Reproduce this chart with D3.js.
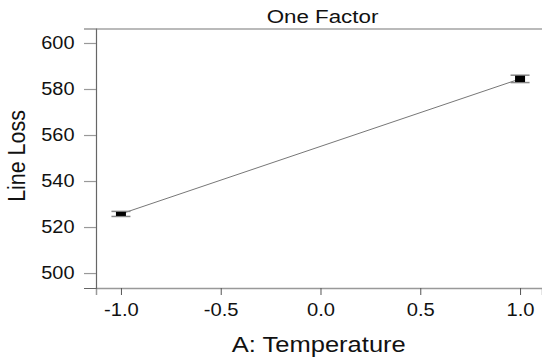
<!DOCTYPE html>
<html>
<head>
<meta charset="utf-8">
<script src="https://cdn.jsdelivr.net/npm/d3@7"></script>
<style>
  body { margin: 0; background: #fff; }
  svg { font-family: "Liberation Sans", Arial, sans-serif; }
</style>
</head>
<body>
<svg id="chart" width="542" height="358"></svg>
<script>
// factor levels and predicted means with interval
const levels = [-1, 1];
const means = [525.7, 584.4];
const halfWidths = [1.1, 1.6];
const xTicks = [-1.0, -0.5, 0.0, 0.5, 1.0];
const yTicks = [500, 520, 540, 560, 580, 600];

const margin = { top: 29, right: 0, bottom: 70, left: 96 };
const width = 542;
const height = 358;

const x = d3.scaleLinear()
  .domain([-1.125, 1.11])
  .range([margin.left, width - margin.right]);

const y = d3.scaleLinear()
  .domain([493.5, 606.3])
  .range([height - margin.bottom, 28.5]);

const svg = d3.select("#chart");

// the source image is a bit wider than tall, so stretch text horizontally
function stretch(sel, k) {
  sel.each(function () {
    const len = this.getComputedTextLength();
    d3.select(this).attr("textLength", len * k).attr("lengthAdjust", "spacingAndGlyphs");
  });
}

// x axis
const xAxis = svg.append("g")
  .attr("transform", `translate(0,${height - margin.bottom})`)
  .call(d3.axisBottom(x).tickValues(xTicks).tickSize(7).tickPadding(8));
xAxis.select(".domain").attr("stroke", "#999").attr("stroke-width", 1.5);
xAxis.selectAll(".tick line").attr("stroke", "#555");
xAxis.selectAll(".tick text").attr("font-size", 18).attr("fill", "#111")
  .text((d) => d3.format(".1f")(d).replace("−", "-"))
  .call(stretch, 1.12);

// y axis
const yAxis = svg.append("g")
  .attr("transform", `translate(${margin.left},0)`)
  .call(d3.axisLeft(y).tickValues(yTicks).tickSize(12).tickPadding(9.5));
yAxis.select(".domain").attr("stroke", "#666").attr("stroke-width", 1.2);
yAxis.selectAll(".tick line").attr("stroke", "#999").attr("stroke-width", 1.2);
yAxis.selectAll(".tick text").attr("font-size", 17.5).attr("fill", "#111")
  .call(stretch, 1.14);

// top frame line
svg.append("line")
  .attr("x1", margin.left).attr("x2", width)
  .attr("y1", margin.top).attr("y2", margin.top)
  .attr("stroke", "#777").attr("stroke-width", 1.2);

// title
svg.append("text")
  .attr("x", 322.5).attr("y", 23)
  .attr("text-anchor", "middle")
  .attr("font-size", 17.5)
  .attr("fill", "#111")
  .attr("textLength", 111.7)
  .attr("lengthAdjust", "spacingAndGlyphs")
  .text("One Factor");

// axis titles
svg.append("text")
  .attr("x", 318.8).attr("y", 352.3)
  .attr("text-anchor", "middle")
  .attr("font-size", 21.5)
  .attr("fill", "#111")
  .attr("textLength", 174)
  .attr("lengthAdjust", "spacingAndGlyphs")
  .text("A: Temperature");

svg.append("text")
  .attr("transform", "translate(25,156) rotate(-90)")
  .attr("text-anchor", "middle")
  .attr("font-size", 23)
  .attr("fill", "#111")
  .attr("textLength", 91.7)
  .attr("lengthAdjust", "spacingAndGlyphs")
  .text("Line Loss");

// effect line
const pts = levels.map((l, i) => ({ x: l, y: means[i], h: halfWidths[i] }));
svg.append("path")
  .datum(pts)
  .attr("fill", "none")
  .attr("stroke", "#777")
  .attr("stroke-width", 1)
  .attr("d", d3.line().x((d) => x(d.x)).y((d) => y(d.y)));

// interval caps and mean markers
const g = svg.append("g").selectAll("g").data(pts).join("g");
g.selectAll("line.cap")
  .data((d) => [{ x: d.x, y: d.y - d.h }, { x: d.x, y: d.y + d.h }])
  .join("line")
  .attr("class", "cap")
  .attr("x1", (d) => x(d.x) - 9.5).attr("x2", (d) => x(d.x) + 9.5)
  .attr("y1", (d) => y(d.y)).attr("y2", (d) => y(d.y))
  .attr("stroke", "#888").attr("stroke-width", 1.5);
g.append("rect")
  .attr("x", (d) => x(d.x) - 5)
  .attr("y", (d) => y(d.y + d.h) + 0.5)
  .attr("width", 10)
  .attr("height", (d) => y(d.y - d.h) - y(d.y + d.h) - 1)
  .attr("fill", "#000");
</script>
</body>
</html>
